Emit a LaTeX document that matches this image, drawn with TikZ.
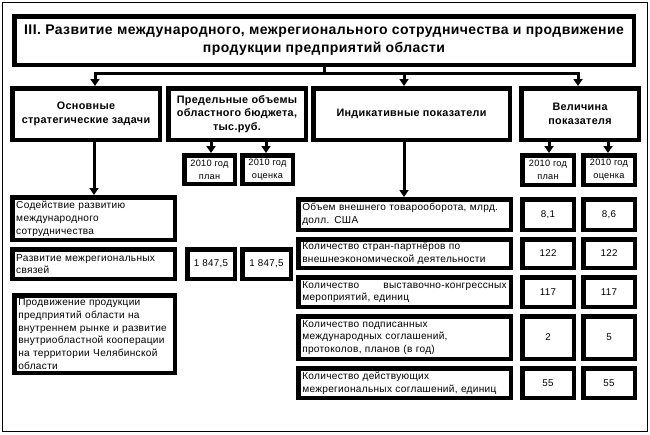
\documentclass[tikz,border=0pt]{standalone}
\usepackage{fontspec}
\setmainfont{Liberation Sans}
\newfontfamily\spfont[LetterSpace=3]{Liberation Sans}
\newcommand\txs{\spfont\fontsize{10.1}{12.8}\selectfont}
\newcommand\txv{\spfont\fontsize{9.8}{13.5}\selectfont}
\newcommand\txh{\spfont\fontsize{9.2}{13}\selectfont}
\newcommand\txb{\spfont\bfseries\fontsize{10.8}{13.5}\selectfont}
\newcommand\txt{\spfont\bfseries\fontsize{14}{18}\selectfont}
\usetikzlibrary{arrows.meta}
\newcommand\bx[7]{%
  \pgfmathsetmacro\cx{(#2+#4)/2}\pgfmathsetmacro\cy{(#3+#5)/2}%
  \pgfmathsetmacro\ww{#4-#2-4.5}\pgfmathsetmacro\hh{#5-#3-4.5}%
  \pgfmathsetmacro\tw{\ww-8}%
  \node[box,minimum width=\ww pt,minimum height=\hh pt,#6] (#1) at (\cx,\cy) {#7};}
\begin{document}
\begin{tikzpicture}[x=1pt,y=-1pt,
  box/.style={draw,line width=4.5pt,inner sep=0pt,fill=white},
  lt/.style={text width=\tw pt,align=left,font=\txs},
  ct/.style={align=center,font=\txv},
  ht/.style={align=center,font=\txh},
  bt/.style={align=center,font=\txb},
  line/.style={line width=3pt,line cap=rect},
  arr/.style={line width=3pt,-{Triangle[width=9pt,length=7pt]}}]
\useasboundingbox (0,0) rectangle (650,434);
\draw[line width=1pt] (2.5,2.5) rectangle (647,431);
% title
\bx{title}{12}{14}{636}{67}{align=center,font=\txt}{III. Развитие международного, межрегионального сотрудничества и продвижение\\продукции предприятий области}
% row 2
\bx{b1}{10}{86}{162}{142}{bt}{Основные\\стратегические задачи}
\bx{b2}{166}{86}{308}{142}{bt}{Предельные объемы\\областного бюджета,\\тыс.руб.}
\bx{b3}{311}{86}{512}{142}{bt}{Индикативные показатели}
\bx{b4}{519}{86}{641}{142}{bt}{Величина\\показателя}
% sub heads
\bx{p1}{182}{153}{237}{186}{ht}{2010 год\\план}
\bx{p2}{240}{153}{295}{186}{ht}{2010 год\\оценка}
\bx{q1}{520}{153}{576}{187}{ht}{2010 год\\план}
\bx{q2}{581}{153}{637}{187}{ht}{2010 год\\оценка}
% left column
\bx{l1}{10}{195}{177}{242}{lt}{Содействие развитию\\международного\\сотрудничества}
\bx{l2}{10}{247}{177}{281}{lt}{Развитие межрегиональных\\связей}
\bx{m1}{185}{247}{237}{281}{ct}{1 847,5}
\bx{m2}{240}{247}{293}{281}{ct}{1 847,5}
\bx{l3}{12}{293}{177}{375}{lt}{Продвижение продукции\\предприятий области на\\внутреннем рынке и развитие\\внутриобластной кооперации\\на территории Челябинской\\области}
% right column
\bx{r1}{296}{197}{513}{232}{lt}{Объем внешнего товарооборота, млрд.\\долл. США}
\bx{r1a}{520}{197}{576}{232}{ct}{8,1}
\bx{r1b}{581}{197}{637}{232}{ct}{8,6}
\bx{r2}{296}{237}{513}{270}{lt}{Количество стран-партнёров по\\внешнеэкономической деятельности}
\bx{r2a}{520}{237}{576}{270}{ct}{122}
\bx{r2b}{581}{237}{637}{270}{ct}{122}
\bx{r3}{296}{275}{513}{309}{lt}{Количество\hfill выставочно-конгрессных\\мероприятий, единиц}
\bx{r3a}{520}{275}{576}{309}{ct}{117}
\bx{r3b}{581}{275}{637}{309}{ct}{117}
\bx{r4}{296}{314}{513}{361}{lt}{Количество подписанных\\международных соглашений,\\протоколов, планов (в год)}
\bx{r4a}{520}{314}{576}{361}{ct}{2}
\bx{r4b}{581}{314}{637}{361}{ct}{5}
\bx{r5}{296}{366}{513}{400}{lt}{Количество действующих\\межрегиональных соглашений, единиц}
\bx{r5a}{520}{366}{576}{400}{ct}{55}
\bx{r5b}{581}{366}{637}{400}{ct}{55}
% connectors
\coordinate (bus) at (0,73);
\coordinate (a1) at (95,73);
\coordinate (a3) at (404,73);
\coordinate (a4) at (578,73);
\coordinate (d1) at (94,0);
\coordinate (d3) at (404,0);
\coordinate (e1) at (211,0);
\coordinate (e2) at (266,0);
\coordinate (f1) at (549,0);
\coordinate (f2) at (608,0);
\draw[line] (title.south) -- (title.south |- bus);
\draw[line] (a1) -- (a4);
\draw[arr] (a1) -- (a1 |- b1.north);
\draw[arr] (a3) -- (a3 |- b3.north);
\draw[arr] (a4) -- (a4 |- b4.north);
\draw[arr] (b1.south -| d1) -- (d1 |- l1.north);
\draw[arr] (b3.south -| d3) -- (d3 |- r1.north);
\draw[arr] (b2.south -| e1) -- (e1 |- p1.north);
\draw[arr] (b2.south -| e2) -- (e2 |- p2.north);
\draw[arr] (b4.south -| f1) -- (f1 |- q1.north);
\draw[arr] (b4.south -| f2) -- (f2 |- q2.north);
\end{tikzpicture}
\end{document}
